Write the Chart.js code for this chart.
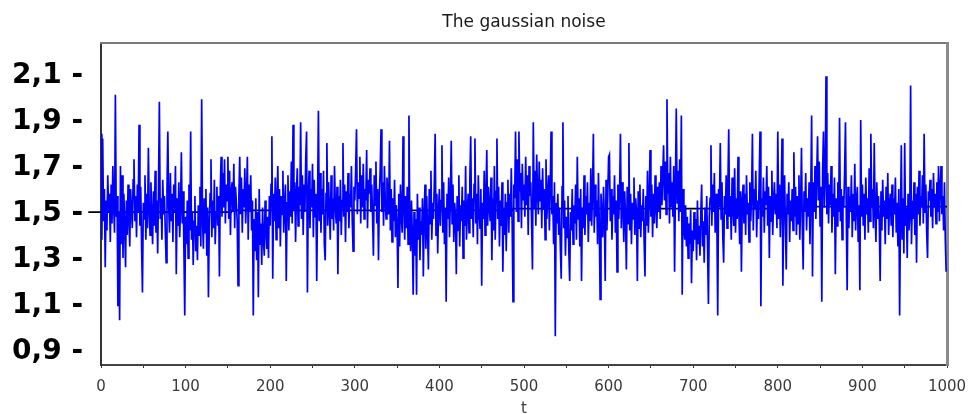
<!DOCTYPE html>
<html>
<head>
<meta charset="utf-8">
<script src="https://cdn.jsdelivr.net/npm/chart.js@4.4.1/dist/chart.umd.min.js"></script>
<style>
  html, body { margin: 0; padding: 0; background: #fff; }
  canvas { display: block; }
</style>
</head>
<body>
<canvas id="chart" width="970" height="414"></canvas>
<script>
// noise samples, t = 0..999
const noise = [
  1.84, 1.38, 1.82, 1.46, 1.60, 1.26, 1.55, 1.42, 1.66, 1.50, 1.58, 1.37, 1.62, 1.45, 1.70, 1.52, 1.41, 2.01, 1.48, 1.57,
  1.09, 1.50, 1.03, 1.70, 1.36, 1.66, 1.30, 1.58, 1.44, 1.26, 1.55, 1.40, 1.62, 1.47, 1.35, 1.60, 1.51, 1.43, 1.64, 1.73,
  1.46, 1.57, 1.39, 1.62, 1.50, 1.88, 1.44, 1.61, 1.35, 1.15, 1.54, 1.47, 1.66, 1.38, 1.58, 1.43, 1.78, 1.52, 1.40, 1.63,
  1.48, 1.36, 1.59, 1.44, 1.68, 1.41, 1.55, 1.32, 1.61, 1.98, 1.47, 1.56, 1.38, 1.64, 1.49, 1.57, 1.42, 1.28, 1.60, 1.85,
  1.53, 1.41, 1.67, 1.46, 1.58, 1.37, 1.62, 1.50, 1.70, 1.23, 1.56, 1.44, 1.63, 1.39, 1.52, 1.76, 1.45, 1.59, 1.34, 1.05,
  1.48, 1.36, 1.55, 1.30, 1.62, 1.42, 1.85, 1.38, 1.50, 1.27, 1.46, 1.57, 1.33, 1.44, 1.29, 1.53, 1.40, 1.61, 1.35, 1.99,
  1.47, 1.34, 1.56, 1.41, 1.60, 1.31, 1.52, 1.13, 1.45, 1.58, 1.73, 1.39, 1.55, 1.43, 1.64, 1.36, 1.50, 1.61, 1.44, 1.57,
  1.22, 1.60, 1.74, 1.48, 1.67, 1.52, 1.73, 1.45, 1.62, 1.55, 1.74, 1.47, 1.68, 1.40, 1.59, 1.63, 1.50, 1.71, 1.43, 1.61,
  1.54, 1.46, 1.18, 1.58, 1.74, 1.49, 1.65, 1.41, 1.60, 1.52, 1.69, 1.45, 1.57, 1.74, 1.38, 1.62, 1.50, 1.66, 1.42, 1.55,
  1.05, 1.47, 1.33, 1.56, 1.29, 1.50, 1.13, 1.60, 1.36, 1.45, 1.27, 1.52, 1.38, 1.31, 1.55, 1.42, 1.34, 1.48, 1.30, 1.57,
  1.44, 1.62, 1.83, 1.21, 1.58, 1.46, 1.65, 1.38, 1.55, 1.70, 1.43, 1.60, 1.35, 1.57, 1.49, 1.68, 1.41, 1.53, 1.62, 1.20,
  1.54, 1.66, 1.42, 1.59, 1.48, 1.72, 1.45, 1.88, 1.51, 1.63, 1.37, 1.58, 1.69, 1.44, 1.61, 1.53, 1.89, 1.47, 1.66, 1.40,
  1.62, 1.50, 1.73, 1.85, 1.15, 1.57, 1.68, 1.43, 1.60, 1.52, 1.71, 1.39, 1.64, 1.48, 1.58, 1.20, 1.55, 1.94, 1.46, 1.67,
  1.41, 1.60, 1.49, 1.68, 1.36, 1.29, 1.58, 1.80, 1.44, 1.63, 1.51, 1.38, 1.66, 1.47, 1.56, 1.42, 1.70, 1.53, 1.45, 1.61,
  1.23, 1.57, 1.46, 1.64, 1.40, 1.55, 1.80, 1.48, 1.62, 1.37, 1.59, 1.50, 1.67, 1.43, 1.58, 1.52, 1.70, 1.46, 1.33, 1.61,
  1.55, 1.68, 1.86, 1.49, 1.63, 1.56, 1.74, 1.45, 1.66, 1.52, 1.71, 1.47, 1.60, 1.55, 1.77, 1.43, 1.64, 1.58, 1.69, 1.50,
  1.62, 1.48, 1.31, 1.66, 1.53, 1.72, 1.45, 1.60, 1.29, 1.57, 1.68, 1.86, 1.50, 1.63, 1.44, 1.70, 1.55, 1.47, 1.65, 1.58,
  1.49, 1.81, 1.42, 1.60, 1.37, 1.56, 1.46, 1.64, 1.39, 1.53, 1.44, 1.17, 1.58, 1.35, 1.62, 1.48, 1.41, 1.83, 1.52, 1.38,
  1.57, 1.43, 1.61, 1.36, 1.92, 1.45, 1.33, 1.55, 1.40, 1.14, 1.50, 1.31, 1.47, 1.14, 1.58, 1.38, 1.52, 1.29, 1.46, 1.40,
  1.56, 1.22, 1.49, 1.62, 1.34, 1.57, 1.42, 1.25, 1.60, 1.45, 1.68, 1.38, 1.54, 1.47, 1.63, 1.84, 1.40, 1.58, 1.32, 1.51,
  1.60, 1.44, 1.55, 1.79, 1.41, 1.63, 1.36, 1.52, 1.11, 1.58, 1.47, 1.65, 1.39, 1.56, 1.81, 1.45, 1.62, 1.37, 1.54, 1.48,
  1.23, 1.57, 1.42, 1.66, 1.35, 1.53, 1.46, 1.61, 1.30, 1.55, 1.44, 1.70, 1.38, 1.50, 1.58, 1.41, 1.64, 1.83, 1.47, 1.56,
  1.39, 1.62, 1.82, 1.45, 1.58, 1.36, 1.66, 1.50, 1.43, 1.60, 1.18, 1.54, 1.47, 1.68, 1.40, 1.57, 1.77, 1.44, 1.61, 1.52,
  1.46, 1.65, 1.29, 1.56, 1.42, 1.70, 1.38, 1.59, 1.82, 1.47, 1.61, 1.35, 1.55, 1.44, 1.63, 1.24, 1.52, 1.40, 1.58, 1.33,
  1.54, 1.64, 1.41, 1.58, 1.48, 1.69, 1.45, 1.11, 1.62, 1.56, 1.85, 1.50, 1.73, 1.46, 1.85, 1.59, 1.67, 1.43, 1.71, 1.55,
  1.62, 1.48, 1.74, 1.53, 1.66, 1.40, 1.70, 1.57, 1.63, 1.45, 1.25, 1.89, 1.52, 1.68, 1.44, 1.75, 1.58, 1.49, 1.72, 1.55,
  1.64, 1.43, 1.69, 1.51, 1.60, 1.38, 1.73, 1.47, 1.58, 1.66, 1.42, 1.61, 1.85, 1.49, 1.57, 1.36, 1.63, 0.96, 1.54, 1.45,
  1.58, 1.40, 1.52, 1.34, 1.21, 1.61, 1.89, 1.43, 1.55, 1.31, 1.48, 1.39, 1.57, 1.33, 1.20, 1.50, 1.42, 1.60, 1.36, 1.53,
  1.45, 1.62, 1.38, 1.74, 1.47, 1.56, 1.35, 1.60, 1.20, 1.52, 1.43, 1.66, 1.40, 1.57, 1.49, 1.63, 1.37, 1.54, 1.46, 1.69,
  1.44, 1.59, 1.84, 1.41, 1.62, 1.48, 1.55, 1.36, 1.67, 1.45, 1.12, 1.58, 1.50, 1.39, 1.61, 1.47, 1.20, 1.64, 1.42, 1.56,
  1.74, 1.75, 1.46, 1.60, 1.38, 1.57, 1.49, 1.66, 1.41, 1.55, 1.24, 1.62, 1.47, 1.58, 1.84, 1.43, 1.63, 1.51, 1.37, 1.59,
  1.48, 1.25, 1.61, 1.45, 1.80, 1.42, 1.58, 1.36, 1.54, 1.47, 1.65, 1.40, 1.56, 1.50, 1.20, 1.59, 1.43, 1.62, 1.39, 1.53,
  1.46, 1.60, 1.37, 1.22, 1.57, 1.44, 1.68, 1.41, 1.55, 1.77, 1.48, 1.62, 1.39, 1.58, 1.45, 1.66, 1.52, 1.43, 1.61, 1.50,
  1.63, 1.47, 1.70, 1.53, 1.66, 1.79, 1.55, 1.72, 1.49, 1.99, 1.58, 1.67, 1.45, 1.74, 1.52, 1.63, 1.48, 1.70, 1.24, 1.61,
  1.95, 1.54, 1.68, 1.46, 1.73, 1.50, 1.92, 1.14, 1.60, 1.44, 1.38, 1.53, 1.35, 1.48, 1.30, 1.45, 1.36, 1.51, 1.19, 1.42,
  1.33, 1.50, 1.38, 1.47, 1.29, 1.55, 1.36, 1.44, 1.31, 1.49, 1.62, 1.35, 1.46, 1.28, 1.52, 1.40, 1.57, 1.34, 1.10, 1.48,
  1.56, 1.79, 1.44, 1.62, 1.50, 1.67, 1.41, 1.58, 1.46, 1.05, 1.60, 1.52, 1.80, 1.47, 1.63, 1.39, 1.28, 1.57, 1.49, 1.66,
  1.43, 1.61, 1.86, 1.48, 1.57, 1.38, 1.65, 1.52, 1.44, 1.69, 1.41, 1.56, 1.47, 1.74, 1.50, 1.36, 1.59, 1.24, 1.55, 1.62,
  1.45, 1.58, 1.40, 1.66, 1.49, 1.54, 1.37, 1.63, 1.46, 1.57, 1.84, 1.42, 1.60, 1.51, 1.68, 1.39, 1.55, 1.47, 1.64, 1.85,
  1.09, 1.56, 1.48, 1.65, 1.41, 1.59, 1.53, 1.70, 1.44, 1.61, 1.30, 1.57, 1.46, 1.68, 1.40, 1.55, 1.63, 1.49, 1.58, 1.43,
  1.85, 1.47, 1.62, 1.39, 1.56, 1.82, 1.18, 1.53, 1.66, 1.44, 1.25, 1.58, 1.49, 1.63, 1.37, 1.55, 1.46, 1.60, 1.42, 1.76,
  1.48, 1.61, 1.40, 1.57, 1.45, 1.66, 1.38, 1.54, 1.78, 1.43, 1.25, 1.59, 1.50, 1.67, 1.42, 1.56, 1.48, 1.63, 1.36, 1.58,
  1.92, 1.22, 1.63, 1.50, 1.70, 1.47, 1.66, 1.83, 1.55, 1.72, 1.44, 1.61, 1.11, 1.68, 1.85, 1.52, 1.64, 2.09, 1.49, 1.67,
  1.45, 1.62, 1.53, 1.70, 1.41, 1.58, 1.48, 1.65, 1.23, 1.56, 1.44, 1.63, 1.50, 1.91, 1.46, 1.60, 1.38, 1.57, 1.52, 1.68,
  1.89, 1.47, 1.16, 1.61, 1.43, 1.57, 1.50, 1.66, 1.39, 1.58, 1.46, 1.71, 1.42, 1.55, 1.61, 1.37, 1.53, 1.16, 1.90, 1.48,
  1.62, 1.44, 1.58, 1.38, 1.65, 1.49, 1.56, 1.41, 1.69, 1.46, 1.84, 1.52, 1.60, 1.43, 1.80, 1.50, 1.37, 1.63, 1.47, 1.57,
  1.45, 1.20, 1.59, 1.42, 1.64, 1.48, 1.55, 1.36, 1.61, 1.47, 1.67, 1.40, 1.53, 1.58, 1.44, 1.62, 1.39, 1.56, 1.49, 1.65,
  1.41, 1.54, 1.35, 1.60, 1.05, 1.47, 1.79, 1.38, 1.56, 1.32, 1.80, 1.44, 1.52, 1.30, 1.58, 1.42, 1.48, 2.05, 1.36, 1.55,
  1.47, 1.63, 1.40, 1.58, 1.28, 1.61, 1.49, 1.68, 1.44, 1.57, 1.52, 1.66, 1.45, 1.84, 1.50, 1.62, 1.41, 1.30, 1.59, 1.55,
  1.64, 1.48, 1.60, 1.43, 1.67, 1.52, 1.58, 1.45, 1.63, 1.50, 1.70, 1.46, 1.61, 1.70, 1.49, 1.57, 1.42, 1.63, 1.38, 1.24
];

// black mean line, stepped
const trendT = [-15, 154, 487, 831, 1000];
const trendY = [1.5, 1.507, 1.515, 1.524, 1.524];

const xTicks = [0, 50, 100, 150, 200, 250, 300, 350, 400, 450, 500, 550, 600, 650, 700, 750, 800, 850, 900, 950, 1000];
const xTickLabels = ['0', '', '100', '', '200', '', '300', '', '400', '', '500', '', '600', '', '700', '', '800', '', '900', '', '1000'];
const yTicks = [0.9, 1.1, 1.3, 1.5, 1.7, 1.9, 2.1];
const yTickLabels = ['0,9 -', '1,1 -', '1,3 -', '1,5 -', '1,7 -', '1,9 -', '2,1 -'];
const yMin = 0.835;
const yMax = 2.235;

// empty axes used only as the grey top / right edges of the box
const edgeAxis = (position, color, width) => ({
  type: 'linear',
  position,
  display: true,
  ticks: { display: false },
  grid: { display: false, drawTicks: false },
  border: { color, width },
  afterFit: (s) => { s.paddingLeft = s.paddingRight = s.paddingTop = s.paddingBottom = 0; }
});

new Chart(document.getElementById('chart'), {
  type: 'line',
  data: {
    datasets: [
      {
        data: noise.map((y, t) => ({ x: t, y })),
        borderColor: '#0000ff',
        borderWidth: 1.7,
        pointRadius: 0,
        tension: 0
      },
      {
        data: trendT.map((t, i) => ({ x: t, y: trendY[i] })),
        borderColor: '#000000',
        borderWidth: 1.8,
        pointRadius: 0,
        stepped: true,
        clip: false
      }
    ]
  },
  options: {
    responsive: false,
    animation: false,
    layout: { padding: { left: 0, right: 23, top: 0, bottom: 0 } },
    plugins: {
      legend: { display: false },
      tooltip: { enabled: false },
      title: {
        display: true,
        text: 'The gaussian noise',
        fullSize: false,
        color: '#1a1a1a',
        font: { family: 'DejaVu Sans', size: 17, weight: 'normal' },
        padding: { top: 12, bottom: 10.6 }
      }
    },
    scales: {
      x: {
        type: 'linear',
        min: 0,
        max: 1000,
        afterBuildTicks: (s) => { s.ticks = xTicks.map(v => ({ value: v })); },
        afterFit: (s) => { s.height = 49; s.paddingLeft = 0; s.paddingRight = 0; },
        ticks: {
          autoSkip: false,
          maxRotation: 0,
          padding: 10,
          color: '#3a3a3a',
          font: { family: 'DejaVu Sans', size: 15 },
          callback: (v, i) => xTickLabels[i]
        },
        grid: { drawOnChartArea: false, drawTicks: true, tickLength: 3, tickColor: '#333' },
        border: { color: '#444', width: 2 },
        title: {
          display: true,
          text: 't',
          color: '#3a3a3a',
          font: { family: 'DejaVu Sans', size: 15 },
          padding: { top: 0, bottom: -4 }
        }
      },
      y: {
        min: yMin,
        max: yMax,
        // extra tick at the top carries the grey top edge of the box
        afterBuildTicks: (s) => { s.ticks = yTicks.concat([yMax]).map(v => ({ value: v })); },
        afterFit: (s) => { s.width = 101; s.paddingTop = 0; s.paddingBottom = 0; },
        ticks: {
          padding: 18,
          labelOffset: 2,
          color: '#000',
          font: { family: 'DejaVu Sans', size: 28, weight: 'bold' },
          callback: (v, i) => yTickLabels[i] || ''
        },
        grid: {
          display: true,
          drawTicks: false,
          lineWidth: 2,
          color: (c) => (c.tick && c.tick.value === yMax ? '#7a7a7a' : 'rgba(0,0,0,0)')
        },
        border: { color: '#333', width: 2 }
      },
      xTop: edgeAxis('top', '#7a7a7a', 2),
      yRight: edgeAxis('right', '#8a8a8a', 3)
    }
  }
});
</script>
</body>
</html>
